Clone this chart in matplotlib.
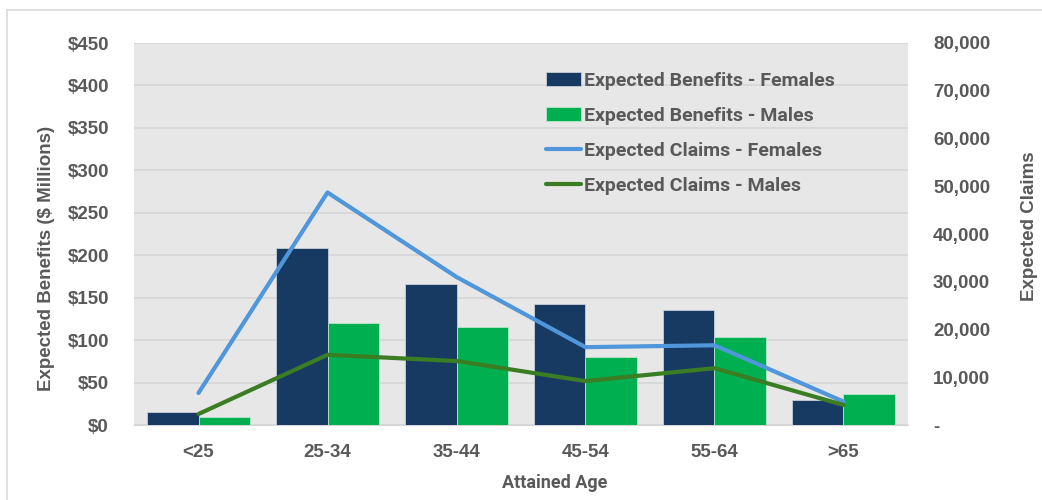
import numpy as np
import matplotlib.pyplot as plt
from matplotlib.ticker import FuncFormatter, MultipleLocator
from matplotlib.lines import Line2D

age_groups = ['<25', '25-34', '35-44', '45-54', '55-64', '>65']
benefits_female = [15, 208, 166, 142, 135, 30]
benefits_male = [10, 120, 116, 80, 104, 36]
claims_female = [6700, 48700, 31000, 16300, 16700, 4900]
claims_male = [2300, 14700, 13400, 9200, 11900, 4200]

navy = '#173A63'
green = '#00B050'
light_blue = '#4F96DA'
dark_green = '#3A7D22'
text_grey = '#595959'

plt.rcParams['font.family'] = ['Liberation Sans', 'DejaVu Sans']

fig = plt.figure(figsize=(10.42, 5), dpi=100)
ax = fig.add_axes([0.1286, 0.15, 0.7428, 0.764])
ax2 = ax.twinx()

# outer chart frame
fig.add_artist(Line2D([7 / 1042, 7 / 1042], [0, 1 - 10 / 500], transform=fig.transFigure,
                      color='#D9D9D9', lw=1.2))
fig.add_artist(Line2D([7 / 1042, 1], [1 - 10 / 500, 1 - 10 / 500], transform=fig.transFigure,
                      color='#D9D9D9', lw=1.2))

x = np.arange(len(age_groups))
w = 0.4
ax.set_facecolor('#E7E7E7')
ax.bar(x - w / 2, benefits_female, w, color=navy, edgecolor='#C8CDD4', linewidth=0.6,
       label='Expected Benefits - Females', zorder=3)
ax.bar(x + w / 2, benefits_male, w, color=green, edgecolor='#B5E6C8', linewidth=0.6,
       label='Expected Benefits - Males', zorder=3)

ax2.plot(x, claims_female, color=light_blue, lw=3, solid_capstyle='round',
         label='Expected Claims - Females', zorder=4)
ax2.plot(x, claims_male, color=dark_green, lw=3, solid_capstyle='round',
         label='Expected Claims - Males', zorder=4)

ax.set_xlim(-0.5, len(age_groups) - 0.5)
ax.set_ylim(0, 450)
ax.yaxis.set_major_locator(MultipleLocator(50))
ax.yaxis.set_major_formatter(FuncFormatter(lambda v, p: f'${v:,.0f}'))
ax2.set_ylim(0, 80000)
ax2.yaxis.set_major_locator(MultipleLocator(10000))
ax2.yaxis.set_major_formatter(FuncFormatter(lambda v, p: '-' if v == 0 else f'{v:,.0f}'))

ax.grid(axis='y', color='#D6D6D6', lw=1.2, zorder=0)
ax.set_axisbelow(True)
for a in (ax, ax2):
    for s in a.spines.values():
        s.set_visible(False)
    a.tick_params(length=0, labelsize=13.5, labelcolor=text_grey)
    for lbl in a.get_yticklabels():
        lbl.set_fontweight('bold')
ax.spines['bottom'].set_visible(True)
ax.spines['bottom'].set_color('#D6D6D6')
ax.tick_params(axis='y', pad=18)
ax2.tick_params(axis='y', pad=18)
ax.tick_params(axis='x', pad=14)
ax.set_xticks(x)
ax.set_xticklabels(age_groups, fontweight='bold')

ax.set_xlabel('Attained Age', fontsize=13, fontweight='bold', color=text_grey,
              family=['Roboto', 'DejaVu Sans'])
ax.xaxis.set_label_coords(0.543, -0.128)
ax.set_ylabel('Expected Benefits ($ Millions)', fontsize=13.5, fontweight='bold',
              color=text_grey)
ax.yaxis.set_label_coords(-0.102, 0.437)
ax2.set_ylabel('Expected Claims', fontsize=13.5, fontweight='bold', color=text_grey)
ax2.yaxis.set_label_coords(1.146, 0.52)

h1, l1 = ax.get_legend_handles_labels()
h2, l2 = ax2.get_legend_handles_labels()
leg = ax2.legend(h1 + h2, l1 + l2, loc='upper left', bbox_to_anchor=(0.51, 0.97),
                 frameon=False, labelspacing=0.88, handlelength=1.8, handletextpad=0.15,
                 prop={'family': 'Roboto', 'weight': 'bold', 'size': 14})
for t in leg.get_texts():
    t.set_color(text_grey)

fig.savefig('out.png', dpi=100, facecolor='white')
